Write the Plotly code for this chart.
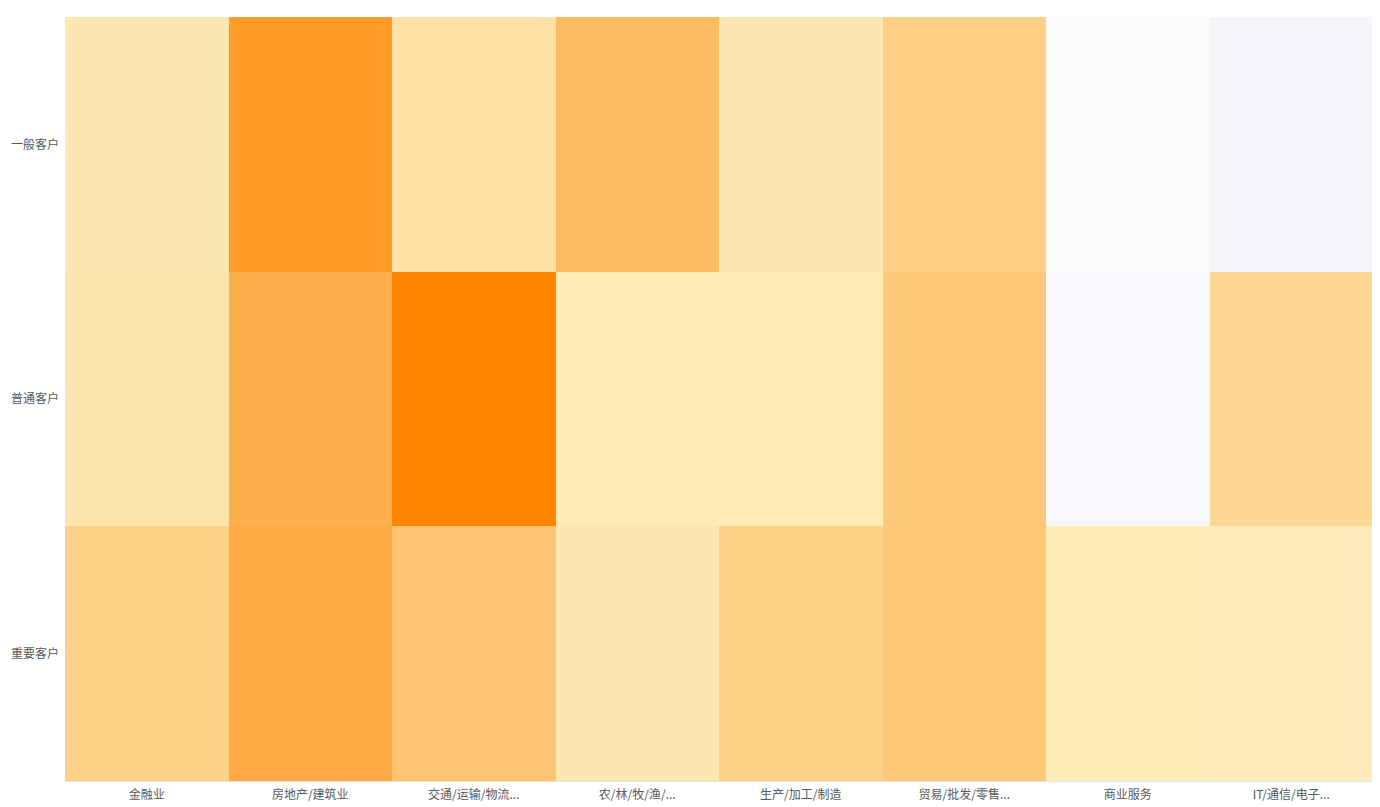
import plotly.graph_objects as go

industries = ["金融业", "房地产/建筑业", "交通/运输/物流...", "农/林/牧/渔/...",
              "生产/加工/制造", "贸易/批发/零售...", "商业服务", "IT/通信/电子..."]
segments = ["一般客户", "普通客户", "重要客户"]

general_vals = [13, 80, 18, 52, 13, 33, 4, 0]
normal_vals = [14, 63, 100, 10, 10, 40, 1, 27]
important_vals = [32, 66, 44, 13, 32, 40, 9, 8]

z = [general_vals, normal_vals, important_vals]

colorscale = [[0.0, "#f5f6fa"], [0.04, "#fcfcfc"], [0.08, "#fdecba"], [1.0, "#ff8400"]]

fig = go.Figure(go.Heatmap(
    x=industries, y=segments, z=z,
    colorscale=colorscale, zmin=0, zmax=100,
    showscale=False,
    hovertemplate="%{y}<br>%{x}: %{z}<extra></extra>",
))

fig.update_layout(
    width=1380, height=807,
    margin=dict(l=57, r=15, t=9, b=34),
    paper_bgcolor="white", plot_bgcolor="white",
    font=dict(family="Noto Sans CJK SC, sans-serif", size=12, color="#595959"),
    xaxis=dict(showgrid=False, zeroline=False, showline=True, linecolor="#e3e3e3",
               linewidth=1, ticks="", ticklabelstandoff=3, automargin=False,
               tickfont=dict(size=12, color="#595959")),
    yaxis=dict(showgrid=False, zeroline=False, autorange="reversed", ticks="",
               ticklabelstandoff=5, automargin=False,
               tickfont=dict(size=12, color="#595959")),
)

fig.write_html("out.html")
